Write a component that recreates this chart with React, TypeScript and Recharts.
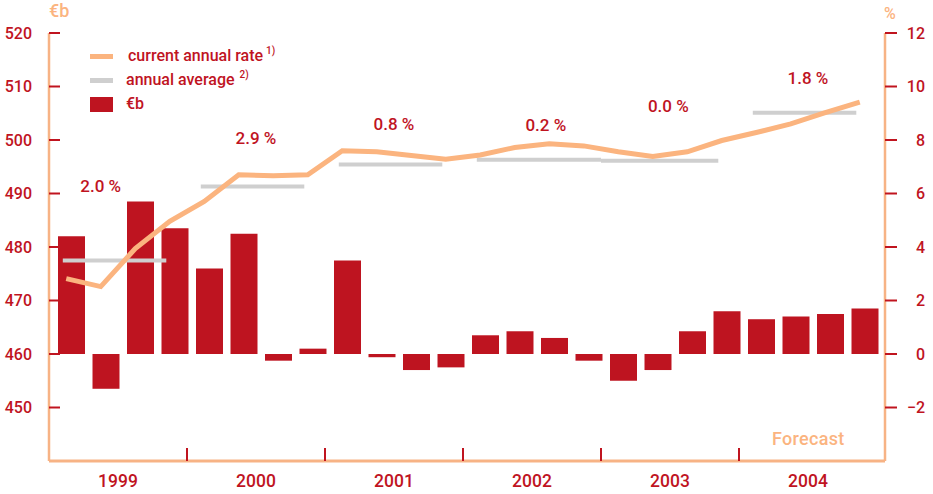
import { ComposedChart, Bar, Line, XAxis, YAxis, ReferenceLine, ReferenceDot } from "recharts";

const RED = "#c0141f";
const ORANGE = "#fbb47f";
const AXIS_ORANGE = "#f7b385";
const GRAY = "#cfcfcf";
const FONT = "Roboto, 'Noto Sans', sans-serif";

// quarters 1999 Q1 .. 2004 Q4
const YEARS = [1999, 2000, 2001, 2002, 2003, 2004];
const QUARTERS = YEARS.flatMap((y) => ["Q1", "Q2", "Q3", "Q4"].map((q) => `${y} ${q}`));

// current annual rate, €b (left axis)
const RATE = [
  474.1, 472.6, 479.7, 484.8, 488.5, 493.5, 493.3, 493.5, 498.0, 497.8, 497.1, 496.4,
  497.2, 498.6, 499.3, 498.9, 497.8, 496.9, 497.8, 499.9, 501.4, 503.0, 505.1, 507.1,
];

// quarterly change, % (right axis)
const CHANGE = [
  4.4, -1.3, 5.7, 4.7, 3.2, 4.5, -0.25, 0.2, 3.5, -0.12, -0.6, -0.5,
  0.7, 0.85, 0.6, -0.25, -1.0, -0.6, 0.85, 1.6, 1.3, 1.4, 1.5, 1.7,
];

// annual averages, €b, and the span each gray bar covers (in quarters)
const AVG = [477.5, 491.3, 495.4, 496.3, 496.1, 505.1];
const AVG_FROM = [0.4, 4.4, 8.4, 12.4, 16.0, 20.4];
const AVG_TO = [3.4, 7.4, 11.4, 16.0, 19.4, 23.4];

// annual growth annotations
const GROWTH = ["2.0 %", "2.9 %", "0.8 %", "0.2 %", "0.0 %", "1.8 %"];
const GROWTH_X = [1.5, 6, 10, 14.4, 17.95, 22];
const GROWTH_Y = [491.4, 500.4, 503.0, 502.8, 506.4, 511.6];

const LEFT_TICKS = [450, 460, 470, 480, 490, 500, 510, 520];
const RIGHT_TICKS = [-2, 0, 2, 4, 6, 8, 10, 12];
const YEAR_TICKS = [2, 4, 6, 8, 10, 12, 14, 16, 18, 20, 22];

const data = QUARTERS.map((q, i) => ({ name: q, x: i + 0.5, rate: RATE[i], change: CHANGE[i] }));

function LeftTick({ x, y, payload }: any) {
  return (
    <g>
      <line x1={x} x2={x + 11} y1={y} y2={y} stroke={RED} strokeWidth={2} />
      <text x={x - 17} y={y} textAnchor="end" dominantBaseline="central" fill={RED} fontSize={16} fontWeight={500} fontFamily={FONT}>
        {payload.value}
      </text>
    </g>
  );
}

function RightTick({ x, y, payload }: any) {
  return (
    <g>
      <line x1={x} x2={x + 12} y1={y} y2={y} stroke={RED} strokeWidth={2} />
      <text x={x + 40} y={y} textAnchor="end" dominantBaseline="central" fill={RED} fontSize={16} fontWeight={500} fontFamily={FONT}>
        {payload.value < 0 ? `\u2212${Math.abs(payload.value)}` : payload.value}
      </text>
    </g>
  );
}

function YearTick({ x, y, payload }: any) {
  const v = payload.value;
  if (v % 4 === 0) {
    return <line x1={x} x2={x} y1={y - 13} y2={y} stroke={RED} strokeWidth={2} />;
  }
  return (
    <text x={x} y={y + 20} textAnchor="middle" dominantBaseline="central" fill={RED} fontSize={17.5} fontWeight={500} fontFamily={FONT}>
      {YEARS[(v - 2) / 4]}
    </text>
  );
}

export default function App() {
  return (
    <div style={{ position: "absolute", left: 0, top: 0, width: 933, height: 494, fontFamily: FONT }}>
      <ComposedChart width={933} height={494} data={data} margin={{ top: 33, right: 0, bottom: 0, left: 0 }}>
        <XAxis
          xAxisId="yr"
          dataKey="x"
          type="number"
          domain={[0, 24]}
          padding={{ left: 0, right: 8 }}
          ticks={YEAR_TICKS}
          interval={0}
          height={33}
          tickSize={0}
          tickMargin={0}
          tickLine={false}
          axisLine={{ stroke: AXIS_ORANGE, strokeWidth: 3 }}
          tick={<YearTick />}
        />
        <XAxis xAxisId="q" dataKey="x" type="number" domain={[0, 24]} padding={{ left: 5, right: 3 }} height={0} hide />
        <YAxis
          yAxisId="left"
          domain={[440, 520]}
          ticks={LEFT_TICKS}
          interval={0}
          width={49}
          tickSize={0}
          tickMargin={0}
          tickLine={false}
          axisLine={{ stroke: AXIS_ORANGE, strokeWidth: 2.5 }}
          tick={<LeftTick />}
        />
        <YAxis
          yAxisId="right"
          orientation="right"
          domain={[-4, 12]}
          ticks={RIGHT_TICKS}
          interval={0}
          width={48}
          tickSize={0}
          tickMargin={0}
          tickLine={false}
          axisLine={{ stroke: AXIS_ORANGE, strokeWidth: 2.5 }}
          tick={<RightTick />}
        />
        <Bar xAxisId="q" yAxisId="right" dataKey="change" fill="#be1420" barSize={27} isAnimationActive={false} />
        {AVG.map((v, i) => (
          <ReferenceLine
            key={YEARS[i]}
            xAxisId="yr"
            yAxisId="left"
            segment={[
              { x: AVG_FROM[i], y: v },
              { x: AVG_TO[i], y: v },
            ]}
            stroke={GRAY}
            strokeWidth={4}
          />
        ))}
        <Line
          xAxisId="yr"
          yAxisId="left"
          dataKey="rate"
          type="linear"
          stroke={ORANGE}
          strokeWidth={5}
          dot={false}
          isAnimationActive={false}
        />
        {GROWTH.map((g, i) => (
          <ReferenceDot
            key={g + i}
            xAxisId="yr"
            yAxisId="left"
            x={GROWTH_X[i]}
            y={GROWTH_Y[i]}
            r={0}
            fill="none"
            stroke="none"
            label={{ value: g, position: "center", fill: RED, fontSize: 17, fontWeight: 500, fontFamily: FONT }}
          />
        ))}
      </ComposedChart>

      <div style={{ position: "absolute", left: 49, top: 0, color: ORANGE, fontSize: 18, fontWeight: 500 }}>€b</div>
      <div style={{ position: "absolute", left: 884, top: 4, color: ORANGE, fontSize: 16, fontWeight: 500 }}>%</div>
      <div style={{ position: "absolute", left: 772, top: 428, color: ORANGE, fontSize: 18, fontWeight: 500, letterSpacing: 0.3 }}>Forecast</div>

      <div style={{ position: "absolute", left: 90, top: 44, color: RED, fontSize: 16, fontWeight: 500, lineHeight: "24px" }}>
        <div style={{ display: "flex", alignItems: "center" }}>
          <span style={{ width: 23, height: 5, background: ORANGE, display: "inline-block", marginRight: 15 }} />
          current annual rate
          <span style={{ fontSize: 10, marginLeft: 3, position: "relative", top: -5 }}>1)</span>
        </div>
        <div style={{ display: "flex", alignItems: "center" }}>
          <span style={{ width: 23, height: 5, background: GRAY, display: "inline-block", marginRight: 13 }} />
          annual average
          <span style={{ fontSize: 10, marginLeft: 5, position: "relative", top: -5 }}>2)</span>
        </div>
        <div style={{ display: "flex", alignItems: "center" }}>
          <span style={{ width: 23, height: 15, background: "#be1420", display: "inline-block", marginRight: 13 }} />
          €b
        </div>
      </div>
    </div>
  );
}
